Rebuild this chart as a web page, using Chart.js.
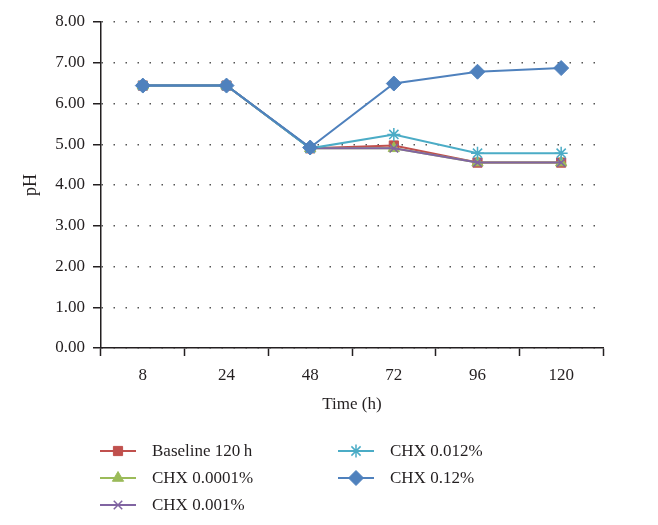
<!DOCTYPE html>
<html>
<head>
<meta charset="utf-8">
<script src="https://cdn.jsdelivr.net/npm/chart.js@4.4.0/dist/chart.umd.min.js"></script>
<style>
  html, body { margin: 0; padding: 0; background: #fff; }
  #wrap { width: 658px; height: 525px; position: relative; }
</style>
</head>
<body>
<div id="wrap"><canvas id="ph"></canvas></div>
<script>
// values
const timeLabels = [ '8', '24', '48', '72', '96', '120' ];
const baseline120 = [ 6.44, 6.44, 4.90, 4.97, 4.55, 4.55 ];
const chx00001 = [ 6.44, 6.44, 4.90, 4.90, 4.55, 4.55 ];
const chx0001 = [ 6.44, 6.44, 4.90, 4.90, 4.55, 4.55 ];
const chx0012 = [ 6.44, 6.44, 4.90, 5.24, 4.78, 4.78 ];
const chx012 = [ 6.44, 6.44, 4.92, 6.49, 6.78, 6.87 ];
const seriesNames = [ 'Baseline 120\u2009h', 'CHX 0.0001%', 'CHX 0.001%', 'CHX 0.012%', 'CHX 0.12%' ];
const yTicks = [ 0, 1, 2, 3, 4, 5, 6, 7, 8 ];

const serif = '"Liberation Serif", "DejaVu Serif", serif';
const ink = '#231f20';

const styles = [
    { color: '#c0504d', point: 'rect', radius: 6.5 },
    { color: '#9bbb59', point: 'triangle', radius: 6.5 },
    { color: '#8064a2', point: 'crossRot', radius: 6 },
    { color: '#4bacc6', point: 'star', radius: 6.5 },
    { color: '#4f81bd', point: 'rectRot', radius: 7.5 }
];

const values = [ baseline120, chx00001, chx0001, chx0012, chx012 ];

const datasets = values.map( ( data, i ) => ( {
    label: seriesNames[ i ],
    data,
    borderColor: styles[ i ].color,
    backgroundColor: styles[ i ].color,
    pointBackgroundColor: styles[ i ].color,
    pointBorderColor: styles[ i ].color,
    pointStyle: styles[ i ].point,
    pointRadius: styles[ i ].radius,
    pointBorderWidth: ( styles[ i ].point === 'crossRot' || styles[ i ].point === 'star' ) ? 1.5 : 1,
    borderWidth: 2,
    tension: 0,
    fill: false,
    order: 5 - i
} ) );

// two-column legend drawn under the axis title
const legendBelow = {
    id: 'legendBelow',
    afterDraw ( chart )
    {
        const { ctx } = chart;
        const cols = [ { x: 100, rows: [ 0, 1, 2 ] }, { x: 338, rows: [ 3, 4 ] } ];
        ctx.save();
        ctx.font = '17px ' + serif;
        ctx.textBaseline = 'middle';
        ctx.fillStyle = ink;
        cols.forEach( col =>
        {
            col.rows.forEach( ( dsIndex, r ) =>
            {
                const st = styles[ dsIndex ];
                const y = 451 + r * 27;
                ctx.strokeStyle = st.color;
                ctx.lineWidth = 2;
                ctx.beginPath();
                ctx.moveTo( col.x, y );
                ctx.lineTo( col.x + 36, y );
                ctx.stroke();
                ctx.fillStyle = st.color;
                ctx.strokeStyle = st.color;
                ctx.lineWidth = ( st.point === 'crossRot' || st.point === 'star' ) ? 1.5 : 1;
                Chart.helpers.drawPoint( ctx, { pointStyle: st.point, radius: st.radius, rotation: 0, borderWidth: ctx.lineWidth }, col.x + 18, y );
                ctx.fillStyle = ink;
                ctx.fillText( seriesNames[ dsIndex ], col.x + 52, y + 1 );
            } );
        } );
        ctx.restore();
    }
};

new Chart( document.getElementById( 'ph' ), {
    type: 'line',
    data: { labels: timeLabels, datasets },
    options: {
        responsive: true,
        maintainAspectRatio: false,
        animation: false,
        layout: { padding: { top: 22, right: 55, left: 0, bottom: 0 } },
        plugins: {
            legend: { display: false },
            tooltip: { enabled: false }
        },
        scales: {
            x: {
                type: 'category',
                offset: true,
                afterFit ( scale ) { scale.height = 177; },
                grid: {
                    offset: true,
                    drawOnChartArea: false,
                    drawTicks: true,
                    tickLength: 8,
                    tickColor: ink,
                    tickWidth: 1.5
                },
                border: { color: ink, width: 1.5 },
                ticks: { color: ink, font: { family: serif, size: 17 }, padding: 9, maxRotation: 0 },
                title: {
                    display: true,
                    text: 'Time (h)',
                    color: ink,
                    font: { family: serif, size: 17 },
                    padding: { top: 4, bottom: 110 }
                }
            },
            y: {
                min: 0,
                max: 8,
                afterFit ( scale ) { scale.width = 101; },
                afterBuildTicks ( scale ) { scale.ticks = yTicks.map( v => ( { value: v } ) ); },
                grid: {
                    color: '#555555',
                    lineWidth: 1.5,
                    tickBorderDash: [ 10, 0 ],
                    tickColor: ink,
                    tickWidth: 1.5,
                    tickLength: 8,
                    drawTicks: true
                },
                border: { color: ink, width: 1.5, dash: [ 1.5, 10.5 ], dashOffset: -12 },
                ticks: {
                    color: ink,
                    font: { family: serif, size: 17 },
                    padding: 8,
                    callback: v => Number( v ).toFixed( 2 )
                },
                title: {
                    display: true,
                    text: 'pH',
                    color: ink,
                    font: { family: serif, size: 18 },
                    padding: { top: 20, bottom: 4 }
                }
            }
        }
    },
    plugins: [ legendBelow ]
} );
</script>
</body>
</html>
